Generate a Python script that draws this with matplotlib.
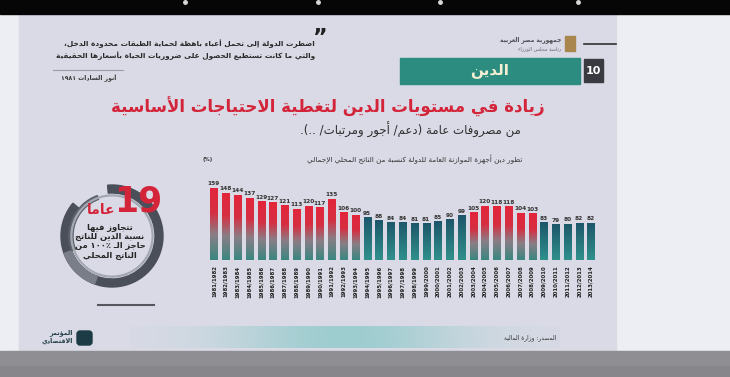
import re
import numpy as np
import matplotlib
matplotlib.use("Agg")
import matplotlib.pyplot as plt
from matplotlib.patches import Rectangle, Wedge, FancyBboxPatch
from matplotlib.colors import LinearSegmentedColormap

# data
years = ["%d/%d" % (y, y + 1) for y in range(1981, 2014)]
debt = [159, 148, 144, 137, 129, 127, 121, 113, 120, 117, 135, 106, 100,
        95, 88, 84, 84, 81, 81, 85, 90, 99, 105, 120, 118, 118, 104, 103,
        83, 79, 80, 82, 82]

plt.rcParams['font.family'] = ['DejaVu Sans']

# --- minimal arabic shaping (matplotlib does not join letters itself) ---
FORMS = {'ء': (0xFE80, 1), 'آ': (0xFE81, 2), 'أ': (0xFE83, 2), 'ؤ': (0xFE85, 2),
         'إ': (0xFE87, 2), 'ئ': (0xFE89, 4), 'ا': (0xFE8D, 2), 'ب': (0xFE8F, 4),
         'ة': (0xFE93, 2), 'ت': (0xFE95, 4), 'ث': (0xFE99, 4), 'ج': (0xFE9D, 4),
         'ح': (0xFEA1, 4), 'خ': (0xFEA5, 4), 'د': (0xFEA9, 2), 'ذ': (0xFEAB, 2),
         'ر': (0xFEAD, 2), 'ز': (0xFEAF, 2), 'س': (0xFEB1, 4), 'ش': (0xFEB5, 4),
         'ص': (0xFEB9, 4), 'ض': (0xFEBD, 4), 'ط': (0xFEC1, 4), 'ظ': (0xFEC5, 4),
         'ع': (0xFEC9, 4), 'غ': (0xFECD, 4), 'ف': (0xFED1, 4), 'ق': (0xFED5, 4),
         'ك': (0xFED9, 4), 'ل': (0xFEDD, 4), 'م': (0xFEE1, 4), 'ن': (0xFEE5, 4),
         'ه': (0xFEE9, 4), 'و': (0xFEED, 2), 'ى': (0xFEEF, 2), 'ي': (0xFEF1, 4)}
LAMALEF = {'آ': 0xFEF5, 'أ': 0xFEF7, 'إ': 0xFEF9, 'ا': 0xFEFB}


def ar(txt):
    txt = ''.join(c for c in txt if not ('\u064b' <= c <= '\u0652'))
    out = []
    prev_j = False
    i = 0
    while i < len(txt):
        c = txt[i]
        nxt = txt[i + 1] if i + 1 < len(txt) else ''
        if c == 'ل' and nxt in LAMALEF:
            out.append(chr(LAMALEF[nxt] + (1 if prev_j else 0)))
            prev_j = False
            i += 2
            continue
        if c == 'ـ':
            out.append(c)
            prev_j = True
        elif c in FORMS:
            base, k = FORMS[c]
            nj = k == 4 and (nxt in FORMS or nxt == 'ـ')
            if k == 1:
                f = 0
            elif prev_j and nj:
                f = 3
            elif prev_j:
                f = 1
            elif nj:
                f = 2
            else:
                f = 0
            out.append(chr(base + f))
            prev_j = k == 4
        else:
            out.append(c)
            prev_j = False
        i += 1
    s = ''.join(out)[::-1]
    s = s.translate(str.maketrans('()', ')('))
    # numbers stay left to right
    s = re.sub(r'[0-9\u0660-\u0669%\u066a]+', lambda m: m.group(0)[::-1], s)
    return s


fig = plt.figure(figsize=(7.3, 3.77), dpi=100)
bg = fig.add_axes([0, 0, 1, 1])
bg.set_xlim(0, 730)
bg.set_ylim(377, 0)
bg.axis('off')

# photo surroundings
bg.add_patch(Rectangle((0, 0), 730, 377, color='#eceef3'))
bg.add_patch(Rectangle((19, 14), 597, 337, color='#d9dae5'))
bg.add_patch(Rectangle((0, 0), 730, 14, color='#060606'))
for lx in [185, 318, 440, 578]:
    bg.plot(lx, 2, 'o', ms=2.5, color='#d8d8d8')
bg.add_patch(Rectangle((0, 351), 730, 26, color='#8e8e93'))
bg.add_patch(Rectangle((0, 366), 730, 11, color='#86868b'))

# soft teal band in the footer
band = np.zeros((1, 200, 4))
band[..., :3] = matplotlib.colors.to_rgb('#8fcaca')
band[0, :, 3] = np.exp(-(np.linspace(-1, 1, 200) / 0.55) ** 2) * 0.8
bg.imshow(band, extent=[130, 560, 348, 326], aspect='auto', zorder=1)

# header right: emblem, state name, section label
bg.add_patch(Rectangle((565, 36), 10, 15, color='#a8864d', zorder=2))
bg.plot([584, 616], [44, 44], color='#303030', lw=1.2)
bg.text(561, 40, ar('جمهورية مصر العربية'), ha='right', va='center', fontsize=4.2,
        weight='bold', color='#4a4a52')
bg.text(561, 49, ar('رئاسة مجلس الوزراء'), ha='right', va='center', fontsize=3.6,
        color='#6a6a72')
bg.add_patch(Rectangle((400, 58), 180, 26, color='#2d8c80'))
bg.text(490, 71, ar('الدَّين'), ha='center', va='center', fontsize=11, weight='bold',
        color='#f4efd2')
bg.add_patch(Rectangle((584, 59), 19, 23, color='#3a3b40'))
bg.text(593.5, 71, '10', ha='center', va='center', fontsize=8, weight='bold', color='white')

# quote top left
bg.text(320, 38, '”', ha='center', va='center', fontsize=16, weight='bold', color='#202020')
bg.text(315, 44, ar('اضطرت الدولة إلى تحمل أعباء باهظة لحماية الطبقات محدودة الدخل،'),
        ha='right', va='center', fontsize=5.3, weight='bold', color='#2a2a2a')
bg.text(315, 56, ar('والتي ما كانت تستطيع الحصول على ضروريات الحياة بأسعارها الحقيقية'),
        ha='right', va='center', fontsize=5.3, weight='bold', color='#2a2a2a')
bg.plot([53, 123], [70, 70], color='#9a9ca6', lw=0.8)
bg.text(116, 78, ar('أنور السادات ١٩٨١'), ha='right', va='center', fontsize=4.4,
        weight='bold', color='#3a3a3a')

# title
bg.text(328, 107, ar('زيادة في مستويات الدَّين لتغطية الاحتياجات الأساسية'),
        ha='center', va='center', fontsize=12, weight='bold', color='#d4243a')
bg.text(410, 130, ar('من مصروفات عامة (دعم/ أجور ومرتبات/ ..).'),
        ha='center', va='center', fontsize=8.5, color='#2e2e2e')

# chart caption
bg.text(522, 159, ar('تطور دين أجهزة الموازنة العامة للدولة كنسبة من الناتج المحلي الإجمالي'),
        ha='right', va='center', fontsize=5.2, color='#333333')
bg.text(208, 160, '(%)', ha='center', va='center', fontsize=3.8, weight='bold', color='#333333')

# circle on the left
cx, cy = 112, 236
bg.add_patch(Wedge((cx, cy), 51, -95, 220, width=8, color='#4b4f59'))
bg.add_patch(Wedge((cx, cy), 51, 110, 160, width=8, color='#7a7e88'))
bg.add_patch(Wedge((cx, cy), 43, 160, 250, width=4, color='#5e626c'))
bg.add_patch(Wedge((cx, cy), 41, 0, 360, width=0.8, color='#a4a8b2'))
bg.text(138, 201, '19', ha='center', va='center', fontsize=25, weight='bold', color='#d4243a')
bg.text(101, 210, ar('عامًا'), ha='center', va='center', fontsize=10, weight='bold',
        color='#d4243a')
for k, line in enumerate(['تتجاوز فيها', 'نسبة الدين للناتج', 'حاجز الـ ١٠٠٪ من', 'الناتج المحلي']):
    bg.text(110, 227 + k * 9.5, ar(line), ha='center', va='center', fontsize=6,
            weight='bold', color='#262626')
bg.plot([98, 154], [305, 305], color='#55585f', lw=1.5)

# footer
bg.text(556, 338, ar('المصدر: وزارة المالية'), ha='right', va='center', fontsize=4.2,
        color='#333333')
bg.add_patch(FancyBboxPatch((77, 331), 15, 14, boxstyle='round,pad=0,rounding_size=3',
                            color='#1d3b45'))
bg.text(73, 333, ar('المؤتمر'), ha='right', va='center', fontsize=4.6, weight='bold',
        color='#1d3b45')
bg.text(73, 341, ar('الاقتصادي'), ha='right', va='center', fontsize=4.6, weight='bold',
        color='#1d3b45')

# bar chart
W, H = 730, 377
ax = fig.add_axes([208.1 / W, 1 - 260 / H, (596.9 - 208.1) / W, 79 / H])
ax.set_facecolor('none')
x = np.arange(len(debt))
red_cm = LinearSegmentedColormap.from_list('red', [(0, '#3b8781'), (0.35, '#8a7e86'),
                                                   (0.65, '#d62f42'), (1, '#e3253b')])
teal_cm = LinearSegmentedColormap.from_list('teal', ['#30908b', '#1d566a'])
grad = np.linspace(0, 1, 100).reshape(-1, 1)
bars = ax.bar(x, debt, width=0.6, color='none')
for b, v in zip(bars, debt):
    cm = red_cm if v >= 100 else teal_cm
    im = ax.imshow(grad, cmap=cm, origin='lower', aspect='auto',
                   extent=[b.get_x(), b.get_x() + b.get_width(), 0, v])
    im.set_clip_path(b)
    ax.text(b.get_x() + b.get_width() / 2, v + 3, str(v), ha='center', va='bottom',
            fontsize=4.2, weight='bold', color='#333333')
ax.set_xlim(-0.5, len(debt) - 0.5)
ax.set_ylim(0, 174)
ax.set_xticks(x)
ax.set_xticklabels(years, rotation=90, fontsize=3.9, weight='bold', color='#222222')
ax.tick_params(length=0, pad=4)
ax.set_yticks([])
for s in ax.spines.values():
    s.set_visible(False)

fig.savefig('out.png', dpi=100)
